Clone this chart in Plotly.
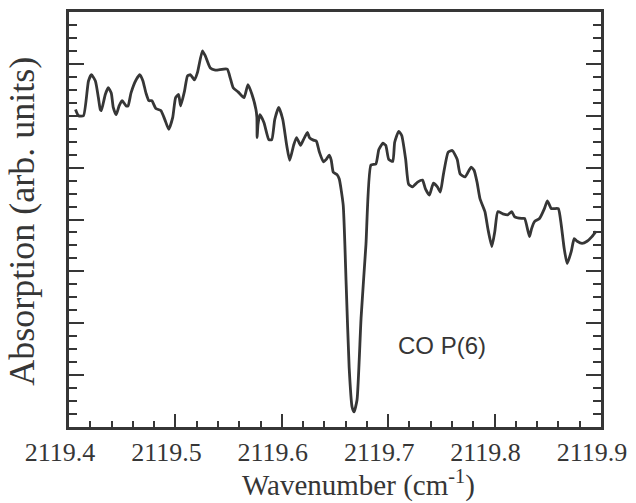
import plotly.graph_objects as go

wavenumber = [
    2119.4061, 2119.4089, 2119.4136, 2119.4183, 2119.4211, 2119.4248, 2119.4276, 2119.4294, 2119.4304, 2119.4341,
    2119.4369, 2119.4397, 2119.4416, 2119.4443, 2119.4471, 2119.4499, 2119.4537, 2119.4555, 2119.4583, 2119.4630,
    2119.4667, 2119.4695, 2119.4723, 2119.4751, 2119.4779, 2119.4816, 2119.4863, 2119.4900, 2119.4937, 2119.4975,
    2119.5002, 2119.5030, 2119.5049, 2119.5086, 2119.5114, 2119.5142, 2119.5179, 2119.5207, 2119.5254, 2119.5282,
    2119.5328, 2119.5375, 2119.5487, 2119.5515, 2119.5543, 2119.5589, 2119.5645, 2119.5682, 2119.5720, 2119.5757,
    2119.5766, 2119.5768, 2119.5776, 2119.5794, 2119.5832, 2119.5878, 2119.5906, 2119.5934, 2119.5971, 2119.6009,
    2119.6046, 2119.6074, 2119.6111, 2119.6139, 2119.6176, 2119.6204, 2119.6241, 2119.6260, 2119.6297, 2119.6325,
    2119.6353, 2119.6391, 2119.6418, 2119.6446, 2119.6465, 2119.6484, 2119.6521, 2119.6540, 2119.6577, 2119.6605,
    2119.6633, 2119.6661, 2119.6679, 2119.6707, 2119.6745, 2119.6791, 2119.6838, 2119.6884, 2119.6912, 2119.6950,
    2119.6977, 2119.7005, 2119.7043, 2119.7061, 2119.7099, 2119.7127, 2119.7164, 2119.7192, 2119.7229, 2119.7276,
    2119.7322, 2119.7350, 2119.7387, 2119.7425, 2119.7462, 2119.7490, 2119.7518, 2119.7564, 2119.7602, 2119.7648,
    2119.7676, 2119.7723, 2119.7779, 2119.7807, 2119.7835, 2119.7863, 2119.7909, 2119.7937, 2119.7974, 2119.8002,
    2119.8030, 2119.8077, 2119.8123, 2119.8161, 2119.8189, 2119.8254, 2119.8282, 2119.8328, 2119.8347, 2119.8375,
    2119.8422, 2119.8468, 2119.8496, 2119.8533, 2119.8561, 2119.8599, 2119.8626, 2119.8654, 2119.8682, 2119.8720,
    2119.8748, 2119.8776, 2119.8822, 2119.8869, 2119.8915, 2119.8953,
]

absorption = [
    6.12, 6.00, 6.00, 6.67, 6.79, 6.67, 6.35, 6.12, 6.10, 6.41,
    6.54, 6.44, 6.16, 6.02, 6.19, 6.29, 6.19, 6.19, 6.44, 6.69,
    6.79, 6.67, 6.44, 6.29, 6.29, 6.14, 6.10, 5.93, 5.74, 5.97,
    6.35, 6.41, 6.19, 6.48, 6.77, 6.79, 6.69, 6.83, 7.25, 7.15,
    6.92, 6.88, 6.90, 6.73, 6.54, 6.46, 6.35, 6.60, 6.41, 6.12,
    5.97, 5.58, 5.83, 6.02, 5.87, 5.54, 5.54, 5.93, 6.16, 5.93,
    5.43, 5.14, 5.43, 5.58, 5.43, 5.54, 5.68, 5.58, 5.53, 5.51,
    5.30, 5.11, 5.16, 5.24, 5.14, 4.91, 4.86, 4.78, 4.28, 2.75,
    1.15, 0.38, 0.29, 0.52, 2.10, 3.52, 5.05, 5.07, 5.35, 5.47,
    5.43, 5.16, 5.12, 5.49, 5.70, 5.62, 5.16, 4.68, 4.63, 4.72,
    4.76, 4.59, 4.47, 4.70, 4.63, 4.53, 4.86, 5.30, 5.33, 5.16,
    4.88, 4.82, 5.01, 4.95, 4.72, 4.40, 4.15, 3.82, 3.48, 3.77,
    4.15, 4.11, 4.09, 4.15, 4.05, 4.02, 4.02, 3.67, 3.82, 3.96,
    4.02, 4.21, 4.36, 4.21, 4.21, 4.21, 3.90, 3.44, 3.15, 3.38,
    3.63, 3.58, 3.54, 3.58, 3.67, 3.77,
]

x_tick_vals = [2119.4, 2119.5, 2119.6, 2119.7, 2119.8, 2119.9]
x_tick_text = ["2119.4", "2119.5", "2119.6", "2119.7", "2119.8", "2119.9"]
x_range = [2119.4, 2119.9]
y_range = [0, 8]

label_text = "CO P(6)"
label_pos = (2119.7508, 1.57)

INK = "#363636"
SERIF = "Liberation Serif"

fig = go.Figure()
fig.add_trace(go.Scatter(
    x=wavenumber, y=absorption, mode="lines",
    line=dict(color=INK, width=2.8, shape="spline", smoothing=0.5),
    showlegend=False, hoverinfo="skip",
))

fig.add_annotation(x=label_pos[0], y=label_pos[1], xref="x", yref="y",
                   text=label_text, showarrow=False,
                   font=dict(family="Liberation Sans", size=24, color=INK))

fig.add_annotation(x=0.544, y=-0.137, xref="paper", yref="paper",
                   text="Wavenumber (cm<sup>-1</sup>)", showarrow=False,
                   font=dict(family=SERIF, size=29, color=INK), yanchor="middle")
fig.add_annotation(x=-0.0900, y=0.495, xref="paper", yref="paper",
                   text="Absorption (arb. units)", showarrow=False, textangle=-90,
                   font=dict(family=SERIF, size=36, color=INK), xanchor="center")

fig.update_xaxes(
    range=x_range, tickmode="array", tickvals=x_tick_vals, ticktext=x_tick_text,
    ticks="inside", ticklen=13, tickwidth=2, tickcolor=INK,
    minor=dict(dtick=0.02, tick0=2119.4, ticks="inside", ticklen=6, tickwidth=2, tickcolor=INK),
    showline=True, linewidth=3, linecolor=INK, mirror=True,
    showgrid=False, zeroline=False,
    tickfont=dict(family=SERIF, size=26, color=INK),
    ticklabelshift=-9,
)
fig.update_yaxes(
    range=y_range, tickvals=list(range(0, 9)), showticklabels=False,
    ticks="inside", ticklen=15, tickwidth=2, tickcolor=INK,
    minor=dict(dtick=0.25, tick0=0, ticks="inside", ticklen=8, tickwidth=2, tickcolor=INK),
    showline=True, linewidth=3, linecolor=INK, mirror="ticks",
    showgrid=False, zeroline=False,
)

fig.update_layout(
    width=636, height=503,
    margin=dict(l=69, r=28, t=9, b=76),
    paper_bgcolor="white", plot_bgcolor="white",
    font=dict(family=SERIF, size=25, color=INK),
)

fig.write_html("out.html")
